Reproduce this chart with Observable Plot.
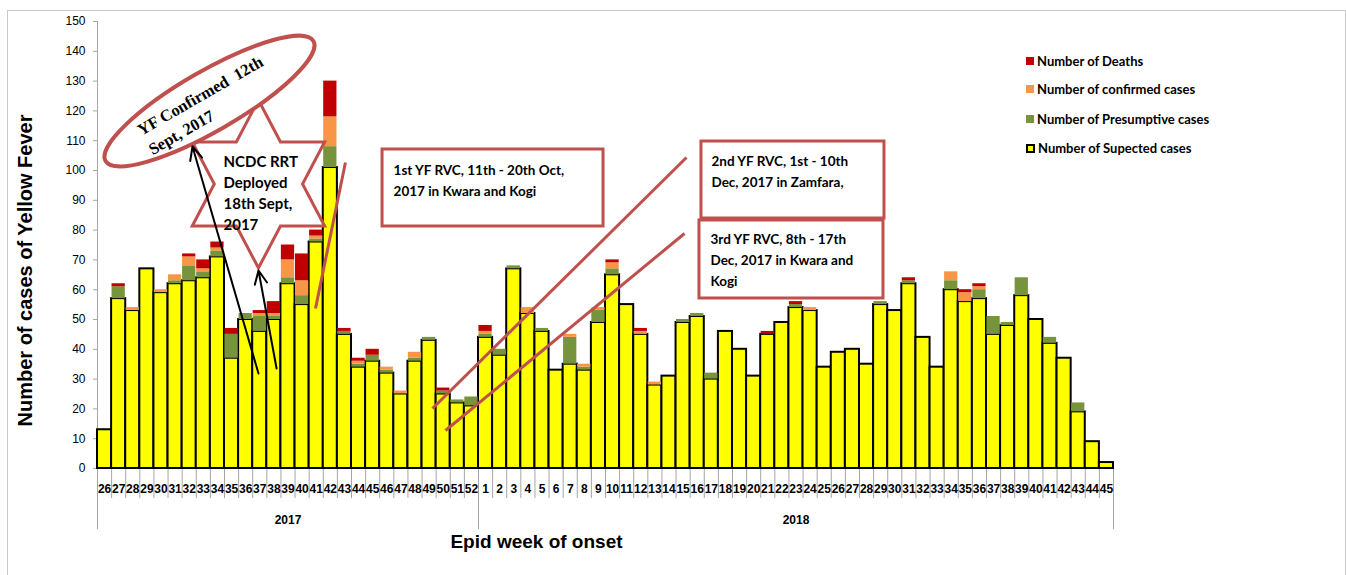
<!DOCTYPE html>
<html>
<head>
<meta charset="utf-8">
<script src="https://cdn.jsdelivr.net/npm/d3@7"></script>
<script src="https://cdn.jsdelivr.net/npm/@observablehq/plot@0.6"></script>
<style>
  body { margin: 0; background: #fff; }
  #wrap { position: relative; width: 1346px; height: 575px; overflow: hidden; }
  #frame { position: absolute; left: 7px; top: 10px; width: 1337px; height: 620px; border: 1px solid #c8c8c8; pointer-events: none; }
  .lg { position: absolute; left: 1026px; display: flex; align-items: center; height: 16px;
        font: bold 13px Lato, "Liberation Sans", sans-serif; color: #000; white-space: nowrap; }
  .sw { width: 8px; height: 8px; margin-right: 3px; box-sizing: border-box; }
</style>
</head>
<body>
<div id="wrap"></div>
<script>
// ---------------- data ----------------
const weeks2017 = [26,27,28,29,30,31,32,33,34,35,36,37,38,39,40,41,42,43,44,45,46,47,48,49,50,51,52];
const weeks2018 = [1,2,3,4,5,6,7,8,9,10,11,12,13,14,15,16,17,18,19,20,21,22,23,24,25,26,27,28,29,30,31,32,33,34,35,36,37,38,39,40,41,42,43,44,45];
const weekLabels = [...weeks2017, ...weeks2018].map(String);
const years = ["2017", "2018"];

const suspected = [
  13,57,53,67,59,62,63,64,71,37,50,46,50,62,55,76,101,45,34,36,32,25,36,43,25,22,21,
  44,38,67,52,46,33,35,33,49,65,55,45,28,31,49,51,30,46,40,31,45,49,54,53,34,39,40,35,55,53,62,44,34,60,56,57,45,48,58,50,42,37,19,9,2
];
const presumptive = [
  0,4,0,0,0,1,5,2,2,8,2,5,1,2,3,1,7,1,1,2,1,0,1,1,1,1,3,
  1,2,1,0,1,0,9,1,4,2,0,0,0,0,1,1,2,0,0,0,0,0,1,0,0,0,0,0,1,0,1,0,0,3,0,3,6,1,6,0,2,0,3,0,0
];
const confirmed = [
  0,0,1,0,1,2,3,1,1,0,0,1,1,6,5,1,10,0,1,0,1,1,2,0,0,0,0,
  1,0,0,2,0,0,1,1,1,2,0,1,1,0,0,0,0,0,0,0,0,0,0,1,0,0,0,0,0,0,0,0,0,3,3,1,0,0,0,0,0,0,0,0,0
];
const deaths = [
  0,1,0,0,0,0,1,3,2,2,0,1,4,5,9,2,12,1,1,2,0,0,0,0,1,0,0,
  2,0,0,0,0,0,0,0,0,1,0,1,0,0,0,0,0,0,0,0,1,0,1,0,0,0,0,0,0,0,1,0,0,0,1,1,0,0,0,0,0,0,0,0,0
];
const seriesNames = ["Number of Deaths", "Number of confirmed cases", "Number of Presumptive cases", "Number of Supected cases"];
const yTicks = d3.range(0, 151, 10);

// annotations (positions in chart units: x = week slot, y = number of cases)
const ellipseNote = {x: 7.97, y: 123.15, text: "YF Confirmed  12th\nSept, 2017", tx: 3.26, ty: 110.4};
const starNote = {x: 11.44, y: 95.3, text: "NCDC RRT\nDeployed\n18th Sept,\n2017", tx: 8.93, ty: 92.95};
const arrowNotes = [
  {x1: 11.41, y1: 31.88, x2: 6.73, y2: 108.05},
  {x1: 12.69, y1: 33.56, x2: 11.41, y2: 66.44}
];
const redLines = [
  {x1: 15.45, y1: 53.69, x2: 17.57, y2: 102.68},
  {x1: 23.74, y1: 20.13, x2: 41.74, y2: 104.36},
  {x1: 24.66, y1: 12.75, x2: 41.60, y2: 78.86}
];
const boxNotes = [
  {x1: 20.20, x2: 35.86, y1: 81.21, y2: 107.05, tx: 20.98, ty: 97.32, text: "1st YF RVC, 11th - 20th Oct,\n2017 in Kwara and Kogi"},
  {x1: 42.80, x2: 55.77, y1: 83.89, y2: 109.73, tx: 43.51, ty: 100.17, text: "2nd YF RVC, 1st - 10th\nDec, 2017 in Zamfara,"},
  {x1: 42.66, x2: 55.70, y1: 57.05, y2: 83.22, tx: 43.44, ty: 70.47, text: "3rd YF RVC, 8th - 17th\nDec, 2017 in Kwara and\nKogi"}
];

// ---------------- build ----------------
const colors = {
  "Number of Supected cases": "#FFFF00",
  "Number of Presumptive cases": "#77933C",
  "Number of confirmed cases": "#F79646",
  "Number of Deaths": "#C00000"
};
const stackOrder = [
  ["Number of Supected cases", suspected],
  ["Number of Presumptive cases", presumptive],
  ["Number of confirmed cases", confirmed],
  ["Number of Deaths", deaths]
];
const segs = [];
weekLabels.forEach((w, i) => {
  let base = 0;
  for (const [name, arr] of stackOrder) {
    const v = arr[i];
    if (v > 0) segs.push({i, name, y1: base, y2: base + v});
    base += v;
  }
});

const calib = 'Lato, "Liberation Sans", sans-serif';
const sans = '"Liberation Sans", Arial, sans-serif';
const RED = "#C0504D";

function shapes(index, scales) {
  const g = d3.create("svg:g");
  // star (hexagram)
  const cx = scales.x(starNote.x), cy = scales.y(starNote.y);
  const R = 84, squeeze = 0.91;
  const pts = [];
  for (let k = 0; k < 12; k++) {
    const ang = -Math.PI / 2 + k * Math.PI / 6;
    const r = k % 2 === 0 ? R : R / Math.sqrt(3);
    pts.push([cx + r * Math.cos(ang) * squeeze, cy + r * Math.sin(ang)]);
  }
  g.append("polygon").attr("points", pts.map(p => p.join(",")).join(" "))
    .attr("fill", "white").attr("stroke", RED).attr("stroke-width", 3).attr("stroke-linejoin", "miter");
  // ellipse
  const ex = scales.x(ellipseNote.x), ey = scales.y(ellipseNote.y);
  g.append("ellipse").attr("cx", ex).attr("cy", ey).attr("rx", 120).attr("ry", 30)
    .attr("transform", `rotate(-30 ${ex} ${ey})`)
    .attr("fill", "white").attr("stroke", RED).attr("stroke-width", 4);
  return g.node();
}

const chart = Plot.plot({
  width: 1346,
  height: 575,
  marginLeft: 97,
  marginRight: 233,
  marginTop: 21,
  marginBottom: 107,
  x: {domain: [0, 72], axis: null},
  y: {domain: [0, 150], axis: null},
  style: {background: "transparent", fontFamily: sans, color: "#000", overflow: "visible"},
  marks: [
    Plot.ruleY([0], {stroke: "#a6a6a6"}),
    Plot.ruleX([0], {stroke: "#a6a6a6"}),
    Plot.axisY({ticks: yTicks, tickSize: 4, tickPadding: 8, stroke: "#a6a6a6", fontSize: 12, fontFamily: sans, label: null}),
    Plot.axisX({ticks: d3.range(73), tickSize: 30, tickFormat: () => "", stroke: "#a6a6a6", label: null}),
    Plot.axisX({ticks: [0, weeks2017.length, weekLabels.length], tickSize: 61, tickFormat: () => "", stroke: "#a6a6a6", label: null}),
    Plot.text(weekLabels, {x: (d, i) => i + 0.5, y: 0, dy: 21, text: d => d, fontSize: 12, fontWeight: "bold", fontFamily: sans}),
    Plot.text(years, {x: (d, i) => i === 0 ? weeks2017.length / 2 : weeks2017.length + weeks2018.length / 2, y: 0, dy: 52, text: d => d, fontSize: 12, fontWeight: "bold", fontFamily: sans}),
    Plot.text(["Epid week of onset"], {x: 31.11, y: 0, dy: 73, text: d => d, fontSize: 19, fontWeight: "bold", fontFamily: sans}),
    Plot.text(["Number of cases of Yellow Fever"], {x: -5.1, y: 66.44, rotate: -90, text: d => d, fontSize: 20, fontWeight: "bold", fontFamily: sans}),
    // bars
    Plot.rect(segs.filter(d => d.name === "Number of Supected cases"), {x1: "i", x2: d => d.i + 1, y1: "y1", y2: "y2", fill: colors["Number of Supected cases"], stroke: "#000", strokeWidth: 2}),
    ...["Number of Presumptive cases", "Number of confirmed cases", "Number of Deaths"].map(name =>
      Plot.rect(segs.filter(d => d.name === name), {x1: d => d.i + 0.03, x2: d => d.i + 0.97, y1: "y1", y2: "y2", fill: colors[name]})
    ),
    // annotations
    Plot.link(redLines, {x1: "x1", y1: "y1", x2: "x2", y2: "y2", stroke: RED, strokeWidth: 3}),
    shapes,
    Plot.arrow(arrowNotes, {x1: "x1", y1: "y1", x2: "x2", y2: "y2", stroke: "#000", strokeWidth: 2, headLength: 11, headAngle: 50}),
    Plot.text([ellipseNote], {x: "tx", y: "ty", text: "text", rotate: -30, textAnchor: "start", lineAnchor: "middle", lineHeight: 1.35, fontSize: 16.5, fontWeight: "bold", fontFamily: '"Liberation Serif", "Times New Roman", serif'}),
    Plot.text([starNote], {x: "tx", y: "ty", text: "text", textAnchor: "start", lineAnchor: "middle", lineHeight: 1.4, fontSize: 15, fontWeight: "bold", fontFamily: calib}),
    Plot.rect(boxNotes, {x1: "x1", x2: "x2", y1: "y1", y2: "y2", fill: "white", stroke: RED, strokeWidth: 3}),
    Plot.text(boxNotes, {x: "tx", y: "ty", text: "text", textAnchor: "start", lineAnchor: "middle", lineHeight: 1.55, fontSize: 13.5, fontWeight: "bold", fontFamily: calib})
  ]
});

const wrap = document.getElementById("wrap");
wrap.appendChild(chart);
const frame = document.createElement("div");
frame.id = "frame";
wrap.appendChild(frame);

// legend (right side, as in the original)
const legendTops = [53, 81, 111, 140];
seriesNames.forEach((name, k) => {
  const it = document.createElement("div");
  it.className = "lg";
  it.style.top = legendTops[k] + "px";
  const sw = document.createElement("span");
  sw.className = "sw";
  sw.style.background = colors[name];
  if (name === "Number of Supected cases") { sw.style.border = "2px solid #000"; sw.style.width = "9px"; sw.style.height = "9px"; }
  it.appendChild(sw);
  it.appendChild(document.createTextNode(name));
  wrap.appendChild(it);
});
</script>
</body>
</html>
